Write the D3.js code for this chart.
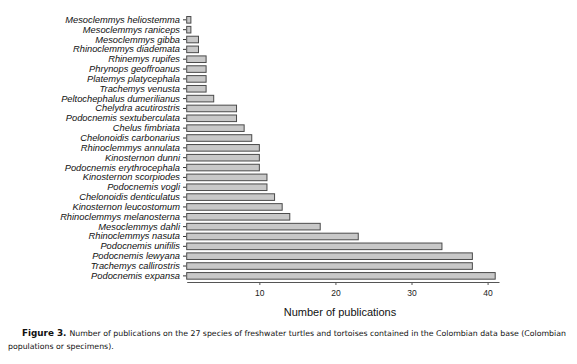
<!DOCTYPE html>
<html><head><meta charset="utf-8">
<script src="https://cdn.jsdelivr.net/npm/d3@7"></script>
<style>body{margin:0;background:#fff}svg{display:block}</style>
</head><body>
<script>
const species = ["Mesoclemmys heliostemma","Mesoclemmys raniceps","Mesoclemmys gibba","Rhinoclemmys diademata","Rhinemys rupifes","Phrynops geoffroanus","Platemys platycephala","Trachemys venusta","Peltochephalus dumerilianus","Chelydra acutirostris","Podocnemis sextuberculata","Chelus fimbriata","Chelonoidis carbonarius","Rhinoclemmys annulata","Kinosternon dunni","Podocnemis erythrocephala","Kinosternon scorpiodes","Podocnemis vogli","Chelonoidis denticulatus","Kinosternon leucostomum","Rhinoclemmys melanosterna","Mesoclemmys dahli","Rhinoclemmys nasuta","Podocnemis unifilis","Podocnemis lewyana","Trachemys callirostris","Podocnemis expansa"];
const publications = [1,1,2,2,3,3,3,3,4,7,7,8,9,10,10,10,11,11,12,13,14,18,23,34,38,38,41];
const xTicks = [10,20,30,40];
const xTitle = "Number of publications";
const captionBold = "Figure 3.";
const captionLine1 = "Number of publications on the 27 species of freshwater turtles and tortoises contained in the Colombian data base (Colombian";
const captionLine2 = "populations or specimens).";

const W=577,H=364;
const svg=d3.select("body").append("svg").attr("width",W).attr("height",H);
const x=d3.scaleLinear().domain([0.45,41.5]).range([186.7,499]);
const y=d3.scaleBand().domain(species).range([14.9,280.8]).paddingInner(0.33).paddingOuter(0.165);

svg.append("g").selectAll("rect").data(species).join("rect")
  .attr("x",x(x.domain()[0]))
  .attr("y",d=>y(d))
  .attr("width",(d,i)=>x(publications[i])-x(x.domain()[0]))
  .attr("height",y.bandwidth())
  .attr("fill","#c8c8c8").attr("stroke","#4a4a4a").attr("stroke-width",1);

const yAx=svg.append("g").attr("transform","translate(186,0)")
  .call(d3.axisLeft(y).tickSize(3).tickPadding(3));
yAx.select(".domain").remove();
yAx.selectAll("line").attr("stroke","#333");
yAx.selectAll("text").attr("font-family","Liberation Sans, Arial, sans-serif").attr("font-style","italic")
  .attr("font-size","9.3px").attr("fill","#111");

const xAx=svg.append("g").attr("transform","translate(0,282)")
  .call(d3.axisBottom(x).tickValues(xTicks).tickSize(3).tickPadding(5).tickSizeOuter(0));
xAx.select(".domain").attr("stroke","#555");
xAx.selectAll("line").attr("stroke","#555");
xAx.selectAll("text").attr("font-family","Liberation Sans, Arial, sans-serif").attr("font-size","8.5px").attr("fill","#222");

svg.append("text").attr("x",340).attr("y",316).attr("text-anchor","middle")
  .attr("font-family","Liberation Sans, Arial, sans-serif").attr("font-size","11px").attr("fill","#111").text(xTitle);

const cap=svg.append("text").attr("x",22).attr("y",336)
  .attr("font-family","DejaVu Sans, sans-serif").attr("font-size","7.8px").attr("fill","#111");
cap.append("tspan").attr("font-weight","bold").attr("font-size","8.8px").text(captionBold+" ");
cap.append("tspan").text(captionLine1);
svg.append("text").attr("x",8).attr("y",349)
  .attr("font-family","DejaVu Sans, sans-serif").attr("font-size","7.8px").attr("fill","#111").text(captionLine2);
</script>
</body></html>
